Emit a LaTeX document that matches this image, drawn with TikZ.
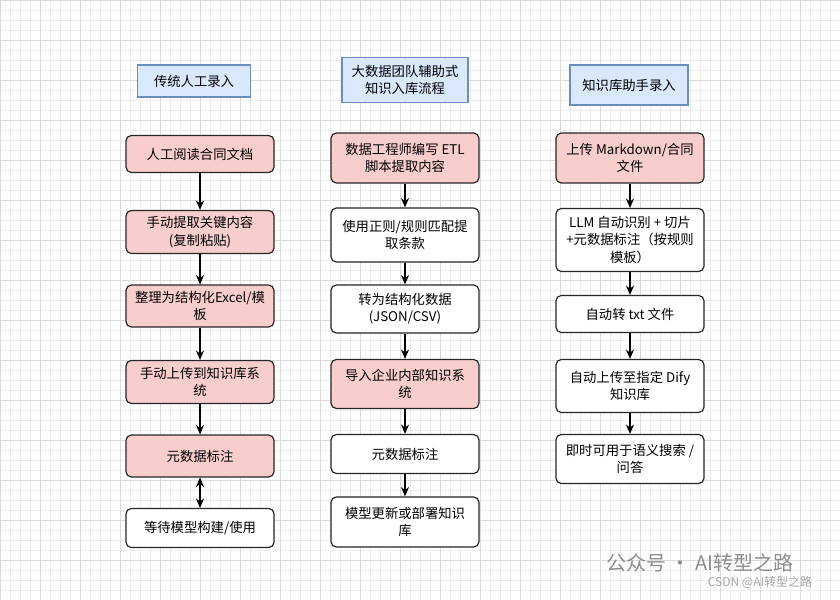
\documentclass[tikz,border=0pt]{standalone}
\usepackage{fontspec}
\setmainfont{Noto Sans CJK SC}
\usetikzlibrary{arrows.meta}
\newlength{\px}\setlength{\px}{0.75pt}
\definecolor{titlefill}{HTML}{DAE8FC}
\definecolor{titleline}{HTML}{6C8EBF}
\definecolor{hotfill}{HTML}{F8CECC}
\tikzset{
    box/.style={draw=black!85,rounded corners=4pt,minimum width=148\px,align=center,font=\fontsize{10}{13}\selectfont,inner sep=2pt,line width=0.9pt},
    hot/.style={box,fill=hotfill},
    plain/.style={box,fill=white},
    title/.style={draw=titleline,fill=titlefill,align=center,font=\fontsize{10}{13}\selectfont,line width=0.8pt,inner sep=3pt},
    flow/.style={-{Stealth[length=7pt,width=6pt]},line width=0.9pt},
  }
\begin{document}
\begin{tikzpicture}[x=\px,y=-\px]
	%fond quadrille
	\useasboundingbox (0,0) rectangle (840,600);
	\draw[black!7,line width=0.4pt] (0,0) grid[step=10\px] (840,600);
	\draw[black!14,line width=0.5pt] (0,0) grid[step=40\px] (840,600);
	
	%COLONNE 1
	\node[title,minimum width=113\px,minimum height=32\px] (t1) at (194,81) {传统人工录入};
	\node[hot,minimum height=37\px] (a1) at (200,154) {人工阅读合同文档};
	\node[hot,minimum height=43\px] (a2) at (200,232) {手动提取关键内容\\(复制粘贴)};
	\node[hot,minimum height=42\px] (a3) at (200,306) {整理为结构化Excel/模\\板};
	\node[hot,minimum height=43\px] (a4) at (200,382) {手动上传到知识库系\\统};
	\node[hot,minimum height=42\px] (a5) at (200,456) {元数据标注};
	\node[plain,minimum height=39\px] (a6) at (200,528) {等待模型构建/使用};
	\foreach \i/\j in {a1/a2,a2/a3,a3/a4,a4/a5} \draw[flow] (\i) -- (\j);
	\draw[flow,{Stealth[length=7pt,width=6pt]}-{Stealth[length=7pt,width=6pt]}] (a5) -- (a6);
	
	%COLONNE 2
	\node[title,minimum width=126\px,minimum height=45\px] (t2) at (405,80) {大数据团队辅助式\\知识入库流程};
	\node[hot,minimum height=50\px] (b1) at (405,158) {数据工程师编写 ETL\\脚本提取内容};
	\node[plain,minimum height=54\px] (b2) at (405,235) {使用正则/规则匹配提\\取条款};
	\node[plain,minimum height=48\px] (b3) at (405,309) {转为结构化数据\\(JSON/CSV)};
	\node[hot,minimum height=49\px] (b4) at (405,384) {导入企业内部知识系\\统};
	\node[plain,minimum height=39\px] (b5) at (405,454) {元数据标注};
	\node[plain,minimum height=50\px] (b6) at (405,522) {模型更新或部署知识\\库};
	\foreach \i/\j in {b1/b2,b2/b3,b3/b4,b4/b5,b5/b6} \draw[flow] (\i) -- (\j);
	
	%COLONNE 3
	\node[title,minimum width=118\px,minimum height=40\px] (t3) at (629,85) {知识库助手录入};
	\node[hot,minimum height=50\px] (c1) at (630,158) {上传 Markdown/合同\\文件};
	\node[plain,minimum height=63\px] (c2) at (630,240) {LLM 自动识别 + 切片\\+元数据标注（按规则\\模板）};
	\node[plain,minimum height=37\px] (c3) at (630,314) {自动转 txt 文件};
	\node[plain,minimum height=53\px] (c4) at (630,386) {自动上传至指定 Dify\\知识库};
	\node[plain,minimum height=49\px] (c5) at (630,459) {即时可用于语义搜索 /\\问答};
	\foreach \i/\j in {c1/c2,c2/c3,c3/c4,c4/c5} \draw[flow] (\i) -- (\j);
	
	%filigrane
	\node[text=black!45,font=\fontsize{15}{17}\selectfont] (w1) at (700,563) {公众号 · AI转型之路};
	\node[text=black!35,font=\fontsize{9}{10}\selectfont] (w2) at (760,582) {CSDN @AI转型之路};
\end{tikzpicture}
\end{document}
